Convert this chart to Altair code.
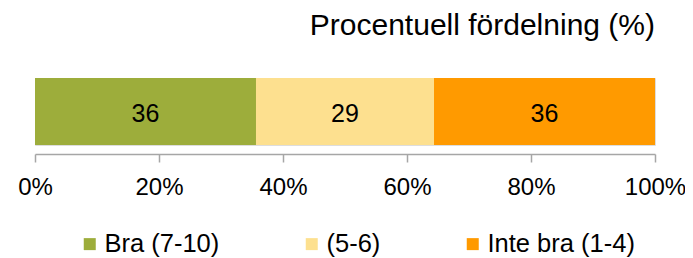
import altair as alt
import pandas as pd

categories = ["Bra (7-10)", "(5-6)", "Inte bra (1-4)"]
values = [36, 29, 36]
order = [0, 1, 2]
colors = ["#9DAD3B", "#FDE08F", "#FF9A00"]
group = ["Alla", "Alla", "Alla"]
tick_values = [0, 0.2, 0.4, 0.6, 0.8, 1.0]
title_text = "Procentuell fördelning (%)"

df = pd.DataFrame({"kategori": categories, "value": values, "order": order, "group": group})

FONT = "Liberation Sans"

base = alt.Chart(df).transform_stack(
    stack="value",
    groupby=["group"],
    as_=["x0", "x1"],
    offset="normalize",
    sort=[alt.SortField("order", order="ascending")],
).transform_calculate(mid="(datum.x0 + datum.x1) / 2")

yenc = alt.Y("group:N", axis=None, scale=alt.Scale(paddingInner=0, paddingOuter=0))

bars = base.mark_bar(strokeWidth=0).encode(
    x=alt.X(
        "x0:Q",
        scale=alt.Scale(domain=[0, 1], nice=False, zero=True),
        axis=alt.Axis(
            values=tick_values,
            format=".0%",
            title=None,
            grid=False,
            offset=9,
            domainColor="#A6A6A6",
            domainWidth=1.5,
            tickColor="#A6A6A6",
            tickWidth=1.5,
            tickSize=8,
            labelPadding=13,
            labelFont=FONT,
            labelFontSize=24,
            labelColor="#000000",
            labelFlush=False,
            labelOverlap=False,
        ),
    ),
    x2="x1:Q",
    y=yenc,
    color=alt.Color(
        "kategori:N",
        sort=categories,
        scale=alt.Scale(domain=categories, range=colors),
        legend=alt.Legend(
            title=None,
            orient="none",
            direction="horizontal",
            legendX=42,
            legendY=153,
            padding=0,
            symbolType="square",
            symbolSize=144,
            symbolStrokeWidth=0,
            labelOffset=2,
            columnPadding=79,
            labelFont=FONT,
            labelFontSize=25.5,
            labelColor="#000000",
            labelLimit=400,
        ),
    ),
    order=alt.Order("order:Q"),
)

labels = base.mark_text(font=FONT, fontSize=25, color="#000000", baseline="middle", dy=2).encode(
    x=alt.X("mid:Q"),
    y=yenc,
    text=alt.Text("value:Q", format=".0f"),
)

chart = (
    alt.layer(bars, labels)
    .properties(
        width=620,
        height=67,
        autosize=alt.AutoSizeParams(type="none"),
        padding={"left": 27, "top": 70, "right": 30, "bottom": 113},
        title=alt.TitleParams(
            title_text,
            anchor="end",
            frame="group",
            font=FONT,
            fontSize=30,
            fontWeight="normal",
            color="#000000",
            baseline="alphabetic",
            offset=13,
        ),
    )
    .configure_view(stroke=None)
    .configure(background="white")
)

chart.save("out.html", embed_options={"renderer": "svg", "actions": False})
